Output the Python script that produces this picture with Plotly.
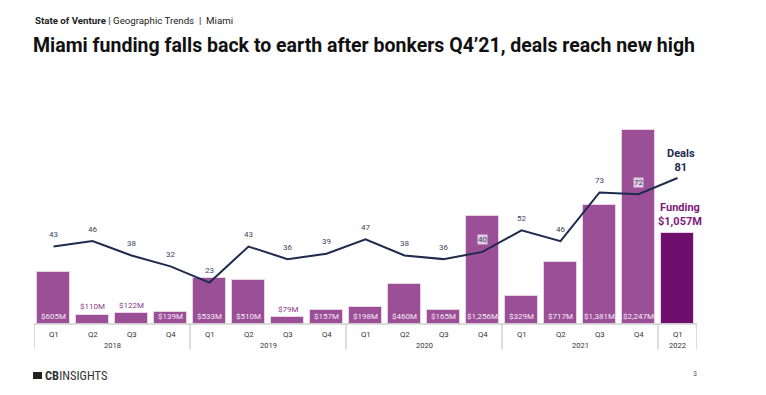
import plotly.graph_objects as go

quarters = ["Q1", "Q2", "Q3", "Q4"] * 4 + ["Q1"]
years = ["2018", "2019", "2020", "2021", "2022"]
funding = [605, 110, 122, 139, 533, 510, 79, 157, 198, 460, 165, 1256, 329, 717, 1381, 2247, 1057]
funding_labels = ["$605M", "$110M", "$122M", "$139M", "$533M", "$510M", "$79M", "$157M",
                  "$198M", "$460M", "$165M", "$1,256M", "$329M", "$717M", "$1,381M", "$2,247M", "$1,057M"]
deals = [43, 46, 38, 32, 23, 43, 36, 39, 47, 38, 36, 40, 52, 46, 73, 72, 81]

n = len(funding)
xs = list(range(n))
BAR = "#9B4F97"
BAR_LAST = "#6F0F6D"
NAVY = "#1E2B4F"
PURPLE_TXT = "#8A3A8A"
FONT = "Roboto"
FMAX = 2363
DMAX = 113.2

bar_colors = [BAR] * (n - 1) + [BAR_LAST]

fig = go.Figure()
fig.add_trace(go.Bar(
    x=xs, y=funding, marker=dict(color=bar_colors, line=dict(color="#E9D3E9", width=1)),
    width=0.87, yaxis="y", hoverinfo="skip", showlegend=False,
))
fig.add_trace(go.Scatter(
    x=xs, y=deals, mode="lines", line=dict(color=NAVY, width=2),
    yaxis="y2", hoverinfo="skip", showlegend=False,
))

OFF = 8  # page body margin
W, H = 766 - OFF, 395 - OFF
PL, PR, PT, PB = 34, 697, 120, 324
ph = PB - PT

ann = []
for i in range(n - 1):
    v = funding[i]
    if v < 130:
        ann.append(dict(x=i, y=v, xref="x", yref="y", text=funding_labels[i], showarrow=False,
                        yshift=8, font=dict(family=FONT, size=8, color=PURPLE_TXT)))
    else:
        ann.append(dict(x=i, y=0, xref="x", yref="y", text=funding_labels[i], showarrow=False,
                        yshift=8, font=dict(family=FONT, size=8, color="#F6EAF6")))
for i in range(n - 1):
    label_px = deals[i] / DMAX * ph + 12
    bar_px = funding[i] / FMAX * ph
    on_bar = label_px < bar_px
    ann.append(dict(x=i, y=deals[i], xref="x", yref="y2", text=str(deals[i]), showarrow=False,
                    yshift=12, bgcolor="rgba(235,225,240,0.85)" if on_bar else None, borderpad=0,
                    font=dict(family=FONT, size=8, color="#3C4560")))
ann.append(dict(x=n - 1, y=deals[-1], xref="x", yref="y2", text="<b>Deals<br>81</b>", showarrow=False,
                yshift=18, xshift=3, font=dict(family=FONT, size=11, color=NAVY)))
ann.append(dict(x=n - 1, y=funding[-1], xref="x", yref="y", text="<b>Funding<br>$1,057M</b>", showarrow=False,
                yshift=18, xshift=2, font=dict(family=FONT, size=11, color="#7E1A7C")))
for i in range(n):
    ann.append(dict(x=i, y=0, xref="x", yref="paper", text=quarters[i], showarrow=False,
                    yanchor="middle", yshift=-10, font=dict(family=FONT, size=7.8, color="#333333")))
year_centers = [1.5, 5.5, 9.5, 13.5, 16]
for yc, yr in zip(year_centers, years):
    ann.append(dict(x=yc, y=0, xref="x", yref="paper", text=yr, showarrow=False,
                    yanchor="middle", yshift=-21, font=dict(family=FONT, size=7.5, color="#333333")))

shapes = []
shapes.append(dict(type="line", xref="x", yref="paper", x0=-0.5, x1=16.5, y0=0, y1=0,
                   line=dict(color="#BBBBBB", width=1)))
for sx in [-0.5, 3.5, 7.5, 11.5, 15.5, 16.5]:
    shapes.append(dict(type="line", xref="x", yref="paper", x0=sx, x1=sx, y0=0, y1=-0.125,
                       line=dict(color="#BBBBBB", width=1)))

L, T = PL - OFF, PT - OFF
R = W - (PR - OFF)
B = H - (PB - OFF)
fig.update_layout(
    width=W, height=H, margin=dict(l=L, r=R, t=T, b=B),
    paper_bgcolor="white", plot_bgcolor="white",
    xaxis=dict(range=[-0.5, 16.5], showticklabels=False, showgrid=False, zeroline=False, showline=False),
    yaxis=dict(range=[0, FMAX], visible=False, showgrid=False),
    yaxis2=dict(range=[0, DMAX], overlaying="y", visible=False, showgrid=False),
    annotations=ann, shapes=shapes, bargap=0,
    font=dict(family=FONT),
)

pw = PR - PL
def px(x):
    return (x - PL) / pw
def py(y):
    return (PB - y) / ph

fig.add_annotation(x=px(33), y=py(20), xref="paper", yref="paper", xanchor="left", yanchor="middle",
                   text="<b>State of Venture</b> | Geographic Trends  |  Miami", showarrow=False,
                   font=dict(family=FONT, size=9.7, color="#222222"))
fig.add_annotation(x=px(31), y=py(45), xref="paper", yref="paper", xanchor="left", yanchor="middle",
                   text="<b>Miami funding falls back to earth after bonkers Q4’21, deals reach new high</b>",
                   showarrow=False, font=dict(family=FONT, size=19.5, color="#111111"))
fig.add_shape(type="rect", xref="paper", yref="paper", x0=px(33), x1=px(42), y0=py(379), y1=py(372),
              fillcolor="#222222", line=dict(width=0))
fig.add_annotation(x=px(43), y=py(375.5), xref="paper", yref="paper", xanchor="left", yanchor="middle",
                   text="<b>CB</b>INSIGHTS", showarrow=False,
                   font=dict(family="Liberation Sans Narrow, Roboto Condensed, Roboto", size=12.5, color="#333333"))
fig.add_annotation(x=px(695), y=py(374), xref="paper", yref="paper", xanchor="center", yanchor="middle",
                   text="3", showarrow=False, font=dict(family=FONT, size=7, color="#555555"))

fig.write_html("out.html")
